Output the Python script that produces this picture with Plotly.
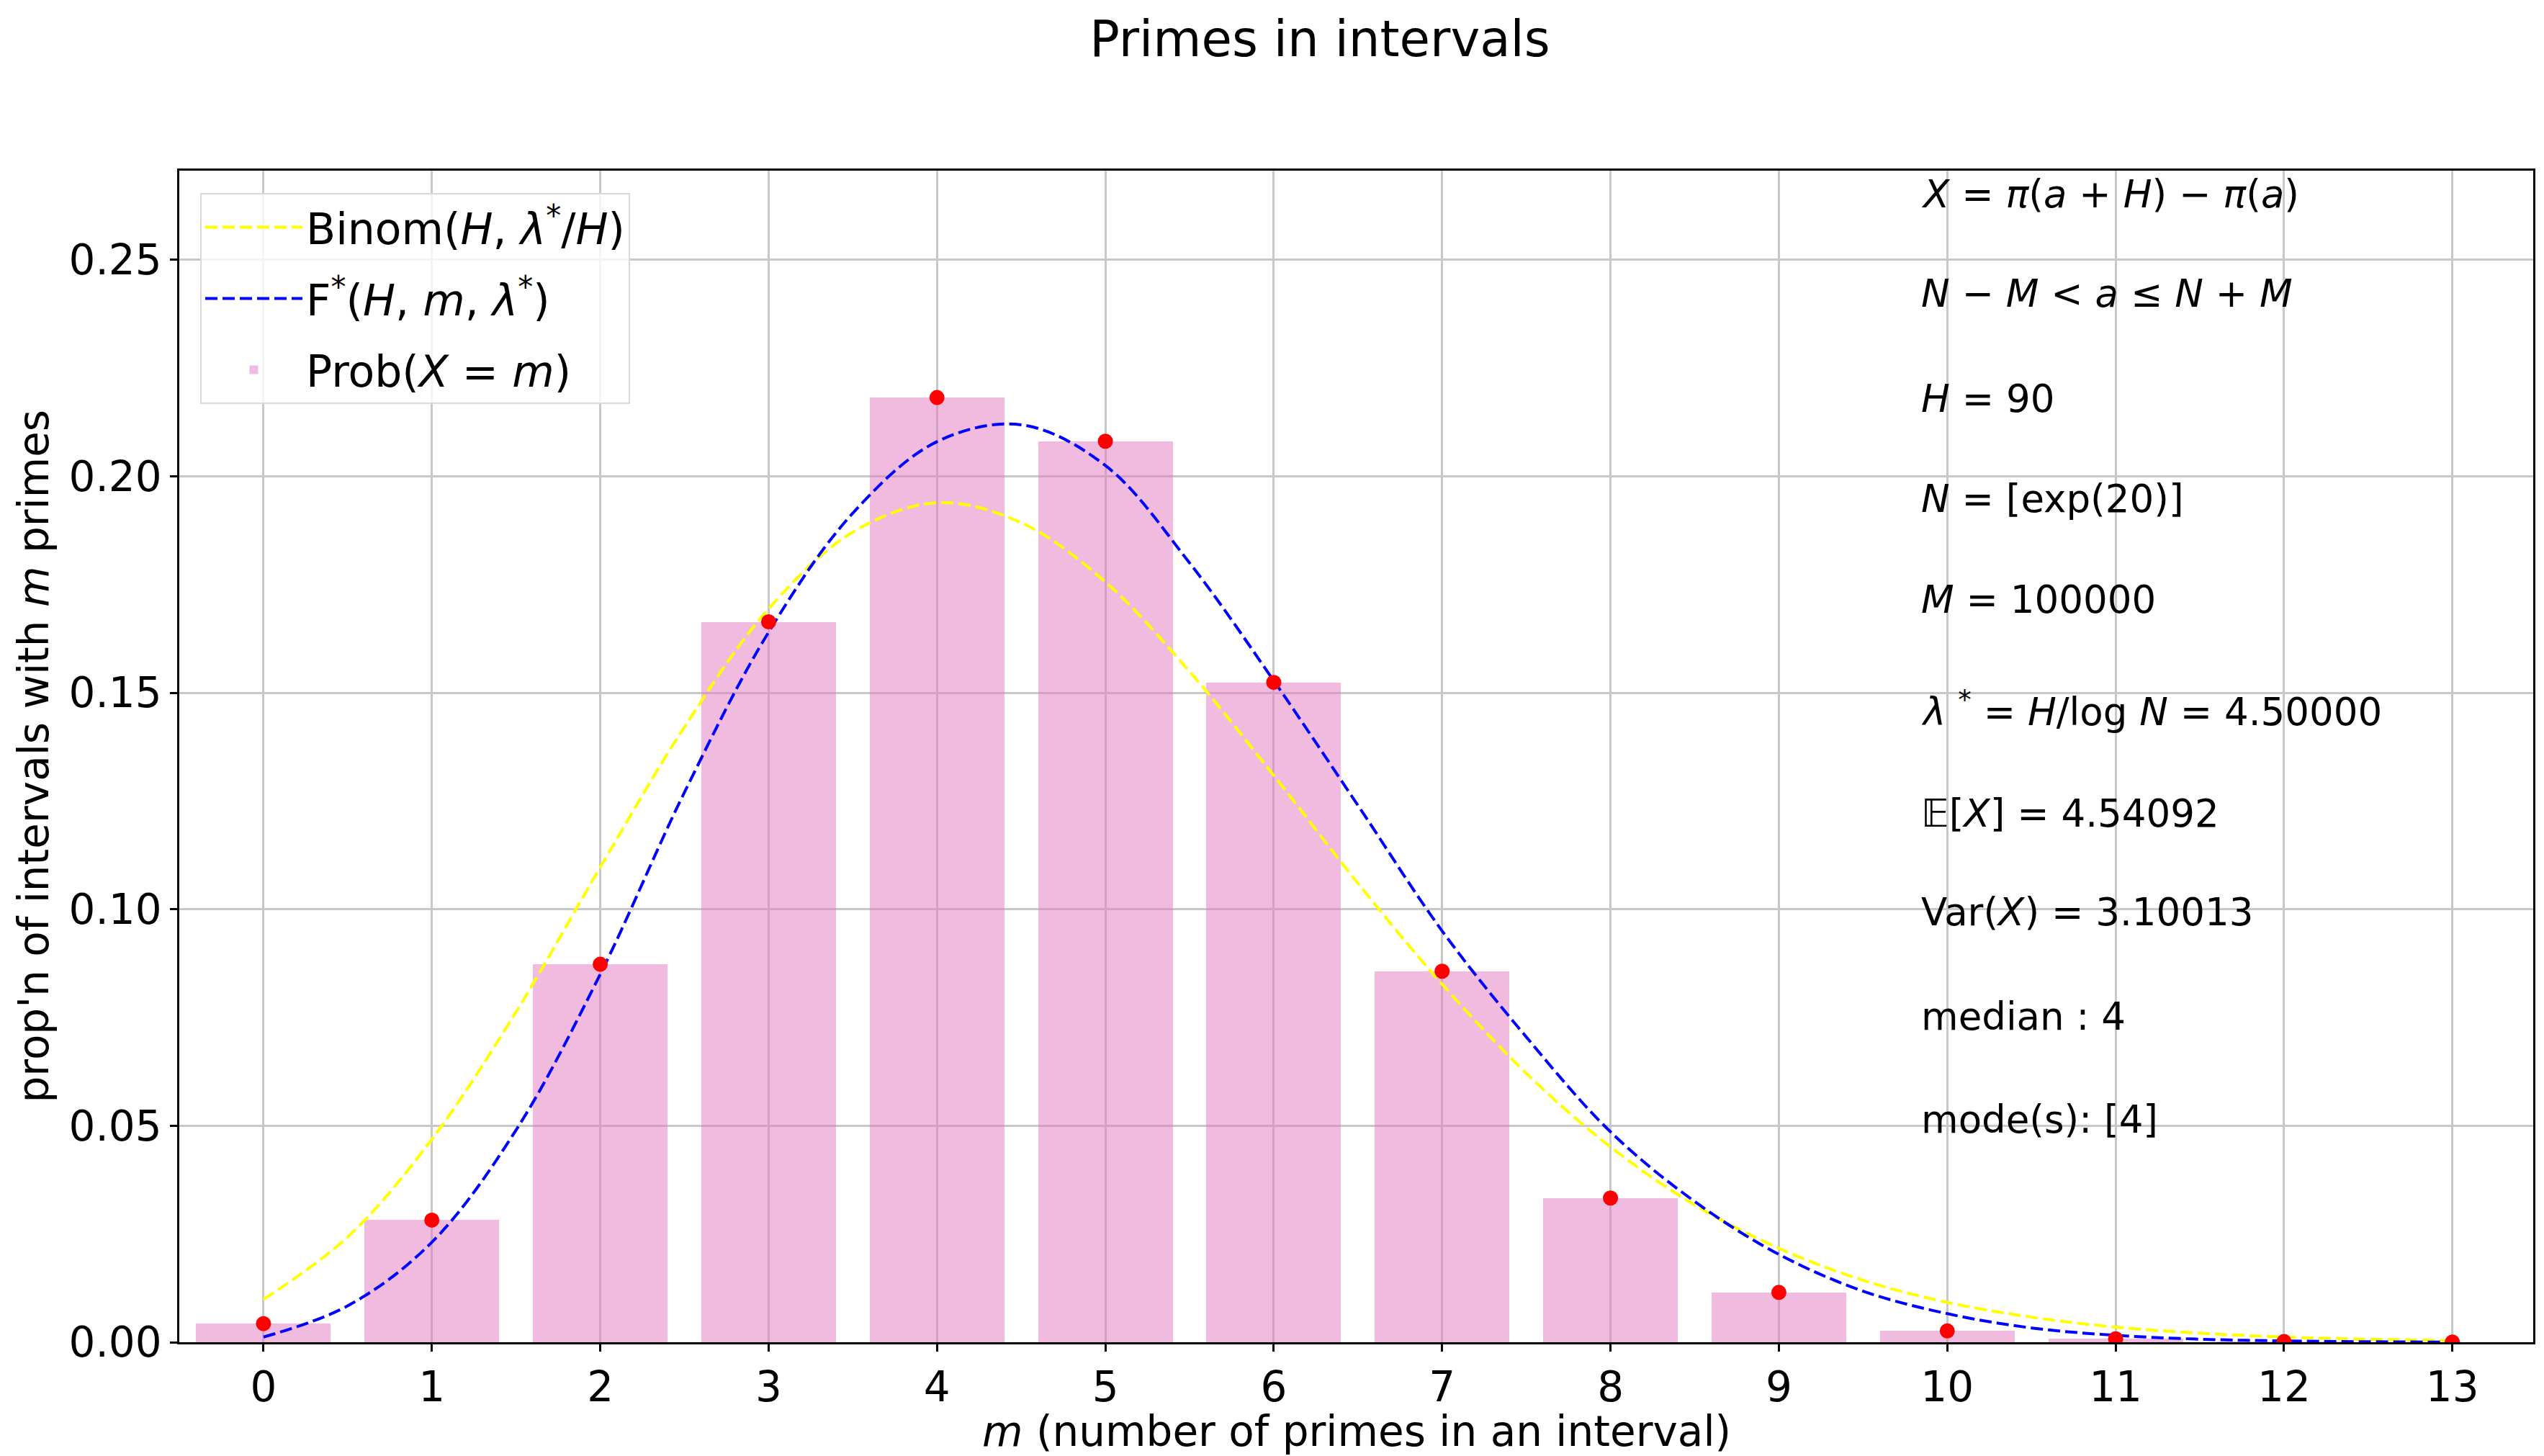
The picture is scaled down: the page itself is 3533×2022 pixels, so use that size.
import plotly.graph_objects as go

m_vals = [0, 1, 2, 3, 4, 5, 6, 7, 8, 9, 10, 11, 12, 13]
prob = [0.0043, 0.0282, 0.0873, 0.1664, 0.2182, 0.2081, 0.1524, 0.0857,
        0.0333, 0.0115, 0.0026, 0.0008, 0.00015, 0.00003]

# smooth curves, sampled every half step
curve_m = [0, 0.5, 1, 1.5, 2, 2.5, 3, 3.5, 4, 4.5, 5, 5.5, 6, 6.5, 7,
           7.5, 8, 8.5, 9, 9.5, 10, 10.5, 11, 11.5, 12, 12.5, 13]
binom = [0.0099, 0.0243, 0.0469, 0.0763, 0.1097, 0.1421, 0.1694, 0.1871,
         0.1939, 0.1893, 0.1756, 0.1549, 0.1309, 0.1060, 0.0827, 0.0621,
         0.0451, 0.0317, 0.0217, 0.0143, 0.0092, 0.0058, 0.0035, 0.0021,
         0.0012, 0.0007, 0.0004]
fstar = [0.0012, 0.0084, 0.0231, 0.049, 0.085, 0.127, 0.164, 0.1915,
         0.208, 0.2119, 0.2025, 0.180, 0.1528, 0.124, 0.095, 0.0705,
         0.0486, 0.0325, 0.0203, 0.0118, 0.0066, 0.0033, 0.0016, 0.0007,
         0.0003, 0.00012, 0.00004]

stats_text = [
    "<i>X</i> = <i>π</i>(<i>a</i> + <i>H</i>) − <i>π</i>(<i>a</i>)",
    "<i>N</i> − <i>M</i> < <i>a</i> ≤ <i>N</i> + <i>M</i>",
    "<i>H</i> = 90",
    "<i>N</i> = [exp(20)]",
    "<i>M</i> = 100000",
    "<i>λ</i> <sup>*</sup> = <i>H</i>/log <i>N</i> = 4.50000",
    "𝔼[<i>X</i>] = 4.54092",
    "Var(<i>X</i>) = 3.10013",
    "median : 4",
    "mode(s): [4]",
]
stats_ypix = [261, 400, 545, 684, 824, 977, 1121, 1258, 1403, 1546]

W, H = 3533, 2022
L, R, T, B = 241, 3510, 229, 1856
FONT = "DejaVu Sans"
PINK = "rgba(227,119,194,0.5)"

fig = go.Figure()
fig.add_trace(go.Scatter(x=curve_m, y=binom, mode="lines", line_shape="spline",
                         line=dict(color="#ffff00", width=4, dash="17px,7px"),
                         legendgroup="a",
                         name="Binom(<i>H</i>, <i>λ</i><sup>*</sup>/<i>H</i>)"))
fig.add_trace(go.Scatter(x=curve_m, y=fstar, mode="lines", line_shape="spline",
                         line=dict(color="#0000ff", width=4, dash="17px,7px"),
                         legendgroup="b",
                         name="F<sup>*</sup>(<i>H</i>, <i>m</i>, <i>λ</i><sup>*</sup>)"))
fig.add_trace(go.Bar(x=m_vals, y=prob, width=0.8,
                     marker=dict(color=PINK, line_width=0),
                     legendgroup="c",
                     name="Prob(<i>X</i> = <i>m</i>)"))
fig.add_trace(go.Scatter(x=m_vals, y=prob, mode="markers",
                         marker=dict(color="#ff0000", size=21), showlegend=False))

# white translucent box behind the statistics text
fig.add_shape(type="rect", xref="paper", yref="paper",
              x0=(2652 - L) / (R - L), x1=(3350 - L) / (R - L),
              y0=(B - 1595) / (B - T), y1=1.0,
              fillcolor="rgba(255,255,255,0.6)", line_width=0, layer="between")

for txt, yp in zip(stats_text, stats_ypix):
    fig.add_annotation(text=txt, xref="paper", yref="paper",
                       x=(2658 - L) / (R - L), y=(B - yp) / (B - T),
                       xanchor="left", yanchor="middle", showarrow=False,
                       font=dict(family=FONT, size=53, color="black"))

# axis titles
fig.add_annotation(text="<i>m</i> (number of primes in an interval)",
                   xref="paper", yref="paper", x=0.5, y=(B - 1980) / (B - T),
                   xanchor="center", yanchor="middle", showarrow=False,
                   font=dict(family=FONT, size=58, color="black"))
fig.add_annotation(text="prop'n of intervals with <i>m</i> primes",
                   xref="paper", yref="paper", x=(38 - L) / (R - L), y=0.5,
                   xanchor="center", yanchor="middle", textangle=-90, showarrow=False,
                   font=dict(family=FONT, size=58, color="black"))

axis_style = dict(showline=True, linecolor="black", linewidth=2.5, mirror=True,
                  ticks="outside", ticklen=10, tickwidth=2.5, tickcolor="black",
                  showgrid=True, gridcolor="#c8c8c8", gridwidth=2.5, zeroline=False,
                  tickfont=dict(family=FONT, size=58, color="black"))

fig.update_xaxes(range=[-0.5, 13.48], tickmode="array", tickvals=m_vals,
                 ticktext=[str(v) for v in m_vals], **axis_style)
fig.update_yaxes(range=[0, 0.2706], tickmode="array",
                 tickvals=[0, 0.05, 0.10, 0.15, 0.20, 0.25], tickformat=".2f",
                 **axis_style)

fig.update_layout(
    width=W, height=H,
    margin=dict(l=L, r=W - R, t=T, b=H - B, autoexpand=False),
    plot_bgcolor="white", paper_bgcolor="white",
    font=dict(family=FONT, color="black"),
    title=dict(text="Primes in intervals", x=1825 / W, xanchor="center",
               y=1 - 46 / H, yanchor="middle", yref="container",
               font=dict(family=FONT, size=69, color="black")),
    bargap=0,
    legend=dict(x=(270 - L) / (R - L), y=(B - 260) / (B - T), xanchor="left", yanchor="top",
                bgcolor="rgba(255,255,255,0.8)", bordercolor="#d9d9d9", borderwidth=2,
                font=dict(family=FONT, size=60, color="black"),
                traceorder="grouped", tracegroupgap=18, itemwidth=135),
)

fig.write_html("out.html")
